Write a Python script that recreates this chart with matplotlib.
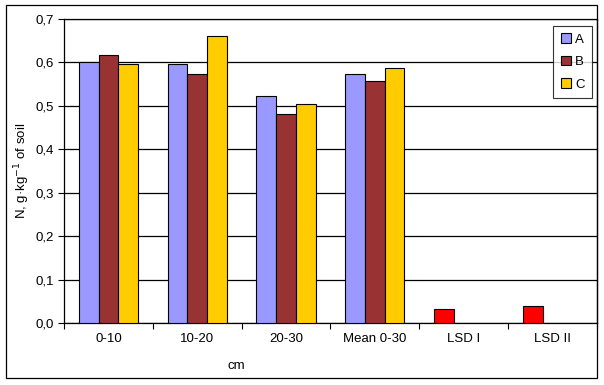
import matplotlib.pyplot as plt
import numpy as np
from matplotlib.patches import Rectangle
from matplotlib.ticker import FuncFormatter

plt.rcParams['font.family'] = ['Liberation Sans', 'DejaVu Sans']

# categorias e valores
categorias = ["0-10", "10-20", "20-30", "Mean 0-30", "LSD I", "LSD II"]
serie_a = [0.600, 0.596, 0.523, 0.573, 0.032, 0.039]   # LSD vai na serie A (barra vermelha)
serie_b = [0.617, 0.572, 0.480, 0.558, np.nan, np.nan]
serie_c = [0.596, 0.660, 0.503, 0.586, np.nan, np.nan]

cor_a = "#9999FF"
cor_b = "#993333"
cor_c = "#FFCC00"
cor_lsd = "#FF0000"

fs = 9.5

fig = plt.figure(figsize=(6.04, 3.85), dpi=100)
ax = fig.add_axes([0.106, 0.161, 0.882, 0.790])

x = np.arange(len(categorias))
w = 0.222
cores_a = [cor_a] * 4 + [cor_lsd] * 2

ax.bar(x - w, serie_a, w, color=cores_a, edgecolor="black", linewidth=0.8, label="A", zorder=3)
ax.bar(x, serie_b, w, color=cor_b, edgecolor="black", linewidth=0.8, label="B", zorder=3)
ax.bar(x + w, serie_c, w, color=cor_c, edgecolor="black", linewidth=0.8, label="C", zorder=3)

ax.set_xlim(-0.5, len(categorias) - 0.5)
ax.set_ylim(0, 0.7)
ax.set_yticks(np.arange(0, 0.71, 0.1))
ax.yaxis.set_major_formatter(FuncFormatter(lambda v, p: f"{v:.1f}".replace(".", ",")))
ax.grid(axis="y", color="black", linewidth=0.9, zorder=0)

# ticks do eixo x nos limites das categorias
ax.set_xticks(np.arange(-0.5, len(categorias), 1.0))
ax.set_xticklabels([])
ax.set_xticks(x, minor=True)
ax.set_xticklabels(categorias, minor=True)
ax.tick_params(axis="x", which="minor", length=0, pad=7, labelsize=fs)
ax.tick_params(axis="x", which="major", direction="out", length=4, width=0.8)
ax.tick_params(axis="y", direction="out", length=4, width=0.8, labelsize=fs, pad=3)

for s in ["left", "bottom", "top", "right"]:
    ax.spines[s].set_color("black")
    ax.spines[s].set_linewidth(0.9)

ax.set_ylabel("N, g·kg$^{-1}$ of soil", fontsize=fs)
ax.yaxis.set_label_coords((32 - 64) / 533, 0.5)
ax.set_xlabel("cm", fontsize=fs)
ax.xaxis.set_label_coords((236 - 64) / 533, -0.122)

# legenda so com A, B, C
handles, labels = ax.get_legend_handles_labels()
handles[0].patches[0].set_facecolor(cor_a)
leg = ax.legend(handles, labels, loc="upper right", bbox_to_anchor=(0.992, 0.978),
                fontsize=fs, frameon=True, fancybox=False, edgecolor="black",
                handlelength=0.75, handleheight=0.75, handletextpad=0.3,
                labelspacing=0.75, borderpad=0.6, borderaxespad=0)
leg.get_frame().set_linewidth(0.8)
leg.set_zorder(5)
# restaurar cor vermelha das barras LSD
for i, p in enumerate(ax.containers[0].patches):
    p.set_facecolor(cores_a[i])

# borda externa do grafico
fig.patches.append(Rectangle((6 / 604, 7 / 385), 591 / 604, 373 / 385,
                             transform=fig.transFigure, fill=False,
                             edgecolor="black", linewidth=0.9))

fig.savefig("out.png", dpi=100)
